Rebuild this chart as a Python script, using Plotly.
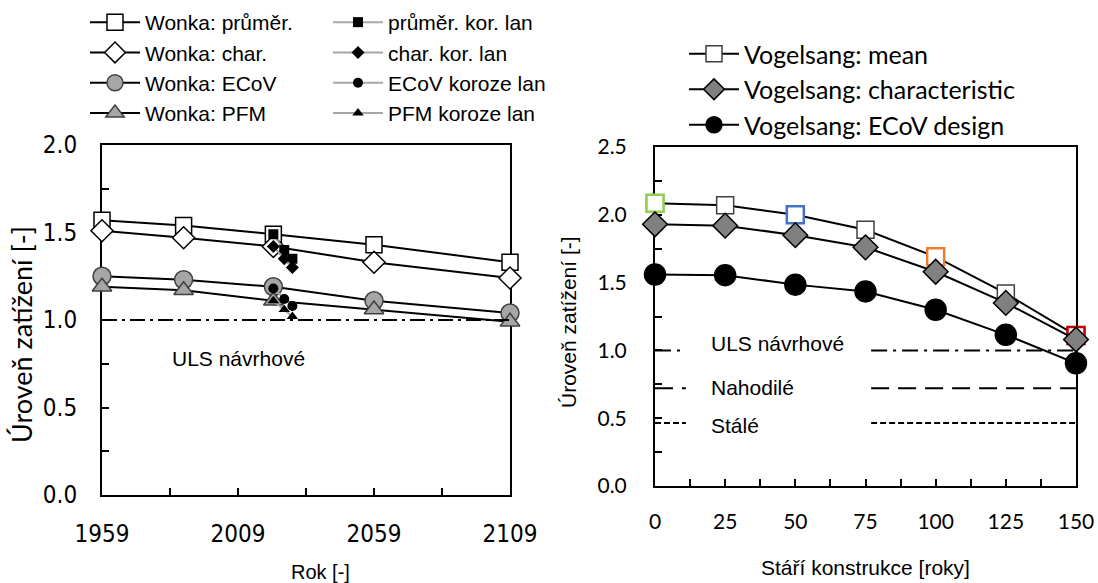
import plotly.graph_objects as go

# ---------------- data ----------------
years_w = [1959, 1989, 2022, 2059, 2109]
wonka_mean = [1.57, 1.54, 1.49, 1.43, 1.33]
wonka_char = [1.51, 1.47, 1.42, 1.33, 1.24]
wonka_ecov = [1.25, 1.23, 1.19, 1.11, 1.04]
wonka_pfm = [1.19, 1.17, 1.11, 1.06, 0.99]

years_k = [2022, 2026, 2029]
kor_mean = [1.49, 1.40, 1.35]
kor_char = [1.42, 1.35, 1.30]
kor_ecov = [1.18, 1.12, 1.08]
kor_pfm = [1.11, 1.06, 1.02]

age = [0, 25, 50, 75, 100, 125, 150]
vog_mean = [2.085, 2.07, 2.00, 1.89, 1.69, 1.42, 1.11]
vog_char = [1.93, 1.92, 1.85, 1.76, 1.58, 1.35, 1.08]
vog_ecov = [1.56, 1.555, 1.485, 1.435, 1.30, 1.115, 0.905]

highlight_idx = [0, 2, 4, 6]
highlight_colors = ["#92D050", "#4472C4", "#ED7D31", "#C00000"]

uls_level = 1.0
nahodile_level = 0.72
stale_level = 0.465

left_xticks = [1959, 2009, 2059, 2109]

# ---------------- styles ----------------
NARROW = "'Liberation Sans Narrow', 'DejaVu Sans Condensed', 'Arial Narrow', sans-serif"
ARIAL = "'Liberation Sans', Arial, sans-serif"
CAL = "Lato, 'Open Sans', sans-serif"
GRAY = "#A6A6A6"

fig = go.Figure()

def wonka(name, y, symbol, fill, size, lw=1.5, lcol="black"):
    fig.add_trace(go.Scatter(
        x=years_w, y=y, name=name, mode="lines+markers", cliponaxis=False,
        line=dict(color="black", width=2),
        marker=dict(symbol=symbol, size=size, color=fill, line=dict(color=lcol, width=lw)),
        xaxis="x", yaxis="y", legend="legend"))

wonka("Wonka: průměr.", wonka_mean, "square", "white", 16)
wonka("Wonka: char.", wonka_char, "diamond", "white", 17)
wonka("Wonka: ECoV", wonka_ecov, "circle", GRAY, 18, 1.5, "#404040")
wonka("Wonka: PFM", wonka_pfm, "triangle-up", GRAY, 17, 1.5, "#404040")

def kor(name, y, symbol, size):
    fig.add_trace(go.Scatter(
        x=years_k, y=y, name=name, mode="lines+markers", cliponaxis=False,
        line=dict(color=GRAY, width=2),
        marker=dict(symbol=symbol, size=size, color="black"),
        xaxis="x", yaxis="y", legend="legend2"))

kor("průměr. kor. lan", kor_mean, "square", 10)
kor("char. kor. lan", kor_char, "diamond", 10)
kor("ECoV koroze lan", kor_ecov, "circle", 10)
kor("PFM koroze lan", kor_pfm, "triangle-up", 10)

# ULS line left plot
fig.add_trace(go.Scatter(
    x=[left_xticks[0], left_xticks[-1]], y=[uls_level, uls_level], mode="lines",
    line=dict(color="black", width=2, dash="15px,5px,3px,5px"),
    showlegend=False, hoverinfo="skip", xaxis="x", yaxis="y"))

# right plot reference lines (gap behind labels)
gap = [11, 77]
def ref_line(level, dash):
    fig.add_trace(go.Scatter(
        x=[age[0], gap[0], None, gap[1], age[-1]], y=[level, level, None, level, level],
        mode="lines", line=dict(color="black", width=2, dash=dash),
        showlegend=False, hoverinfo="skip", xaxis="x2", yaxis="y2"))

ref_line(uls_level, "16px,6px,3px,6px")
ref_line(nahodile_level, "18px,9px")
ref_line(stale_level, "6px,3px")

def vog(name, y, symbol, fill, size, lcol="black"):
    fig.add_trace(go.Scatter(
        x=age, y=y, name=name, mode="lines+markers", cliponaxis=False,
        line=dict(color="black", width=2),
        marker=dict(symbol=symbol, size=size, color=fill, line=dict(color=lcol, width=1.5)),
        xaxis="x2", yaxis="y2", legend="legend3"))

vog("Vogelsang: mean", vog_mean, "square", "white", 17, "#404040")

# coloured highlight squares on the mean series (drawn below the other series)
fig.add_trace(go.Scatter(
    x=[age[i] for i in highlight_idx], y=[vog_mean[i] for i in highlight_idx],
    mode="markers", showlegend=False, cliponaxis=False,
    marker=dict(symbol="square", size=17, color="white",
                line=dict(color=highlight_colors, width=2.5)),
    xaxis="x2", yaxis="y2"))

vog("Vogelsang: characteristic", vog_char, "diamond", "#808080", 19)
vog("Vogelsang: ECoV design", vog_ecov, "circle", "black", 21)

# ---------------- layout ----------------
W, H = 1098, 583
def px(x): return x / W
def py(y): return 1 - y / H

axcommon = dict(showline=True, linecolor="black", linewidth=2, mirror=True,
                showgrid=False, zeroline=False, ticks="inside", ticklen=7,
                tickwidth=2, tickcolor="black", automargin=False, layer="below traces")

fig.update_layout(
    width=W, height=H, margin=dict(l=0, r=0, t=0, b=0, autoexpand=False),
    paper_bgcolor="white", plot_bgcolor="white",
    xaxis=dict(domain=[px(102), px(510)], range=[1959, 2109],
               tickvals=left_xticks, ticktext=[str(v) for v in left_xticks],
               minor=dict(dtick=25, tick0=1959, ticks="inside", ticklen=7, tickwidth=2, tickcolor="black"),
               tickfont=dict(family=NARROW, size=24, color="black"), ticklabelstandoff=16,
               anchor="y", **axcommon),
    yaxis=dict(domain=[py(495), py(145)], range=[0, 2], dtick=0.5, tickformat=".1f",
               minor=dict(dtick=0.25, ticks="inside", ticklen=7, tickwidth=2, tickcolor="black"),
               tickfont=dict(family=NARROW, size=24, color="black"), ticklabelstandoff=18,
               anchor="x", **axcommon),
    xaxis2=dict(domain=[px(655), px(1076)], range=[0, 150], dtick=25,
                minor=dict(dtick=12.5, ticks="inside", ticklen=7, tickwidth=2, tickcolor="black"),
                tickfont=dict(family=CAL, size=21, color="black"), ticklabelstandoff=16,
                anchor="y2", **axcommon),
    yaxis2=dict(domain=[py(486), py(147)], range=[0, 2.5], dtick=0.5, tickformat=".1f",
                minor=dict(dtick=0.25, ticks="inside", ticklen=7, tickwidth=2, tickcolor="black"),
                tickfont=dict(family=CAL, size=21, color="black"), ticklabelstandoff=22,
                anchor="x2", **axcommon),
    legend=dict(x=px(85), y=py(2), xanchor="left", yanchor="top", bgcolor="rgba(0,0,0,0)",
                font=dict(family=ARIAL, size=21, color="black"), itemwidth=50,
                tracegroupgap=0),
    legend2=dict(x=px(328), y=py(2), xanchor="left", yanchor="top", bgcolor="rgba(0,0,0,0)",
                 font=dict(family=ARIAL, size=21, color="black"), itemwidth=50,
                 tracegroupgap=0),
    legend3=dict(x=px(684), y=py(31), xanchor="left", yanchor="top", bgcolor="rgba(0,0,0,0)",
                 font=dict(family=CAL, size=25, color="black"), itemwidth=50,
                 tracegroupgap=0),
)

ann = []
ann.append(dict(text="ULS návrhové", x=px(170), y=py(358), xref="paper", yref="paper",
                xanchor="left", yanchor="middle", showarrow=False,
                font=dict(family=ARIAL, size=21, color="black")))
for txt, yy in [("ULS návrhové", 343), ("Nahodilé", 387), ("Stálé", 425)]:
    ann.append(dict(text=txt, x=px(709), y=py(yy), xref="paper", yref="paper",
                    xanchor="left", yanchor="middle", showarrow=False,
                    font=dict(family=ARIAL, size=21, color="black")))
ann.append(dict(text="Rok [-]", x=px(320), y=py(572), xref="paper", yref="paper",
                xanchor="center", yanchor="middle", showarrow=False,
                font=dict(family=ARIAL, size=20, color="black")))
ann.append(dict(text="Stáří konstrukce [roky]", x=px(865), y=py(567), xref="paper", yref="paper",
                xanchor="center", yanchor="middle", showarrow=False,
                font=dict(family=ARIAL, size=21, color="black")))
ann.append(dict(text="Úroveň zatížení [-]", x=px(21), y=py(335), xref="paper", yref="paper",
                xanchor="center", yanchor="middle", showarrow=False, textangle=-90,
                font=dict(family=CAL, size=27, color="black")))
ann.append(dict(text="Úroveň zatížení [-]", x=px(568), y=py(322), xref="paper", yref="paper",
                xanchor="center", yanchor="middle", showarrow=False, textangle=-90,
                font=dict(family=ARIAL, size=21, color="black")))
fig.update_layout(annotations=ann)

fig.write_html("out.html", config={"displayModeBar": False},
               post_script="document.body.style.margin='0px';document.body.style.overflow='hidden';")
